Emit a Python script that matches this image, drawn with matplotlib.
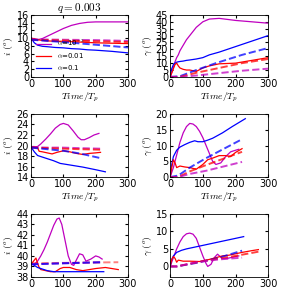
import matplotlib.pyplot as plt
import numpy as np


#estimated curves#

# top row: inclination i (left) and gamma (right)
t_i1 = [0, 10, 20, 35, 50, 75, 100, 125, 150, 175, 200, 250, 300]
i1_m = [10, 9.8, 9.6, 9.9, 10.5, 11.5, 12.5, 13.3, 13.8, 14.1, 14.2, 14.2, 14.2]
i1_r = [10, 9.8, 9.6, 9.4, 9.3, 9.2, 9.2, 9.1, 9.0, 8.9, 8.8, 8.7, 8.6]
i1_b = [10, 8.8, 8.2, 7.9, 7.8, 7.6, 7.5, 7.3, 7.2, 7.0, 6.9, 6.6, 6.2]
td_i1 = [0, 100, 200, 300]
i1_md = [9.7, 9.6, 9.5, 9.3]
i1_rd = [9.6, 9.4, 9.2, 9.0]
i1_bd = [9.6, 9.0, 8.3, 7.6]

t_g1 = [0, 5, 10, 15, 20, 25, 30, 40, 50, 60, 80, 100, 120, 150, 200, 250, 300]
g1_m = [0, 3, 7, 11, 14, 16, 19, 23, 27, 30, 36, 40, 42, 42.5, 41, 40, 39]
g1_b = [0, 6, 9, 10, 10.7, 11, 11.2, 11.5, 12, 12.3, 13, 14, 16, 18, 22, 26, 30]
g1_r = [0, 3, 6, 9, 10, 8, 6.5, 5.5, 5, 5, 4, 6.5, 8, 9.5, 10, 12, 14]
td_g1 = [0, 30, 80, 140, 220, 300]
g1_bd = [0, 0.5, 5, 10, 16, 21]
g1_rd = [0, 0, 3, 6, 10, 13]
g1_md = [0, 0, 1, 2.5, 4.5, 6]

# middle row
t_i2 = [0, 20, 30, 45, 60, 75, 90, 100, 115, 130, 145, 155, 165, 180, 195, 210]
i2_m = [19.7, 19.8, 20.3, 21.2, 22.2, 23.3, 24.0, 24.2, 23.9, 22.8, 21.6, 21.1, 21.1, 21.5, 22.0, 22.3]
t_i2r = [0, 20, 25, 35, 50, 65, 80, 100, 120, 140, 160, 180, 200, 215]
i2_r = [19.7, 19.6, 18.9, 18.8, 18.6, 18.4, 18.7, 19.0, 18.8, 18.5, 18.3, 18.5, 18.6, 18.7]
t_i2b = [0, 10, 20, 35, 50, 70, 90, 110, 130, 160, 200, 230]
i2_b = [19.7, 18.8, 18.1, 17.8, 17.5, 17.1, 16.6, 16.4, 16.2, 15.9, 15.4, 15.0]
td_i2 = [0, 50, 100, 150, 215]
i2_md = [19.7, 19.6, 19.6, 19.5, 19.4]
i2_rd = [19.6, 19.5, 19.4, 19.3, 19.2]
i2_bd = [19.6, 19.3, 19.0, 18.5, 17.6]

t_g2 = [0, 10, 20, 30, 40, 50, 60, 70, 80, 90, 100, 110, 120, 130, 140, 155, 170, 185, 200, 210]
g2_m = [0, 3, 7, 11, 14, 16, 17, 16.8, 16, 14.5, 12.5, 10, 7.5, 5, 4, 4.5, 6.5, 8, 8.5, 8.8]
t_g2b = [0, 5, 10, 20, 30, 45, 60, 75, 85, 100, 115, 130, 160, 190, 230]
g2_b = [0, 4, 6.5, 8.5, 9.5, 10.3, 11, 11.5, 11.2, 11.2, 11.7, 12.3, 14, 16, 18.5]
t_g2r = [0, 5, 10, 15, 20, 30, 45, 60, 80, 100, 115, 130, 150, 170, 185, 200, 220]
g2_r = [0, 3, 5.5, 4.5, 3, 3.5, 3.2, 3, 2.5, 4, 5.5, 6, 6.8, 6.8, 6.5, 7.8, 9]
td_g2 = [0, 25, 60, 110, 220]
g2_bd = [0, 0.5, 3, 6, 12]
g2_rd = [0, 0, 1.8, 3.8, 8]
g2_md = [0, 0, 1, 2, 4.8]

# bottom row
t_i3 = [0, 10, 20, 30, 40, 50, 60, 70, 80, 87, 95, 105, 115, 125, 132, 140, 150, 160, 170, 185, 200, 210, 220]
i3_m = [39.2, 39.2, 39.5, 40.0, 40.6, 41.3, 42.1, 42.9, 43.5, 43.6, 43.0, 41.5, 40.0, 39.2, 39.1, 39.6, 40.2, 40.1, 39.5, 39.7, 40.0, 39.9, 39.7]
t_i3r = [0, 10, 15, 20, 25, 30, 45, 60, 75, 90, 100, 120, 140, 160, 180, 200, 230, 250, 270]
i3_r = [39.2, 39.6, 39.8, 39.3, 38.9, 38.7, 38.6, 38.5, 38.5, 38.8, 38.9, 38.9, 38.7, 38.6, 38.7, 38.8, 38.9, 38.8, 38.7]
t_i3b = [0, 10, 20, 30, 50, 70, 100, 150, 225]
i3_b = [39.3, 39.1, 38.9, 38.8, 38.6, 38.5, 38.5, 38.5, 38.5]
td_i3 = [0, 100, 220]
i3_md = [39.2, 39.3, 39.4]
i3_bd = [39.2, 39.3, 39.4]
td_i3r = [0, 135, 270]
i3_rd = [39.3, 39.35, 39.4]

t_g3 = [0, 10, 20, 30, 40, 50, 60, 70, 80, 90, 100, 110, 115, 125, 135, 145, 160, 175, 190, 210]
g3_m = [0, 2.5, 5, 7, 8.5, 9.3, 9.5, 9.2, 8, 5.5, 3, 0.8, 0, 0.6, 2.5, 3.5, 2.2, 2.3, 2.6, 3]
t_g3b = [0, 5, 10, 20, 35, 50, 75, 100, 150, 200, 225]
g3_b = [0, 2, 3, 4, 4.6, 5, 5.5, 6, 7, 8, 8.5]
t_g3r = [0, 5, 10, 15, 20, 25, 40, 60, 90, 120, 140, 160, 180, 200, 220, 250, 270]
g3_r = [0, 2, 2.8, 2.3, 1.2, 1.8, 1.5, 1.5, 1.4, 2, 2.5, 3, 3.2, 3.6, 4, 4.5, 4.8]
td_g3 = [0, 20, 80, 150, 220]
g3_bd = [0, 0, 1, 2.5, 4.5]
td_g3r = [0, 20, 100, 200, 270]
g3_rd = [0, 0, 1.5, 3, 4.2]
g3_md = [0, 0, 1.2, 2, 2.5]


#general look#

plt.rcParams['font.size'] = 7
plt.rcParams['mathtext.fontset'] = 'cm'
plt.rcParams['xtick.direction'] = 'in'
plt.rcParams['ytick.direction'] = 'in'
plt.rcParams['xtick.top'] = True
plt.rcParams['ytick.right'] = True
plt.rcParams['xtick.major.size'] = 2.5
plt.rcParams['ytick.major.size'] = 2.5

fig = plt.figure(figsize=(2.99, 2.87), dpi=100)

lefts = [0.104, 0.569]
widths = [0.324, 0.328]
bottoms = [0.732, 0.383, 0.035]
heights = [0.216, 0.220, 0.220]

axes = []
for r in range(3):
    row = []
    for c in range(2):
        row.append(fig.add_axes([lefts[c], bottoms[r], widths[c], heights[r]]))
    axes.append(row)

lw = 0.9
dlw = 1.4
da = 0.75

# top row
ax = axes[0][0]
ax.plot(t_i1, i1_m, color='m', lw=lw, label=r'$\alpha$=10$^{-3}$')
ax.plot(t_i1, i1_r, color='r', lw=lw, label=r'$\alpha$=0.01')
ax.plot(t_i1, i1_b, color='b', lw=lw, label=r'$\alpha$=0.1')
ax.plot(td_i1, i1_md, '--', color='m', lw=dlw, alpha=da)
ax.plot(td_i1, i1_rd, '--', color='r', lw=dlw, alpha=da)
ax.plot(td_i1, i1_bd, '--', color='b', lw=dlw, alpha=da)
ax.set_ylim(0, 16)
ax.set_yticks(range(0, 17, 2))
ax.set_title('$q=0.003$', fontsize=8, pad=2)
ax.legend(loc='lower left', frameon=False, fontsize=5, handlelength=2.2,
          borderaxespad=0.3, labelspacing=0.4)
ax.set_xlabel('$Time/T_p$')
ax.set_ylabel(r'$i\ (^o)$')

ax = axes[0][1]
ax.plot(t_g1, g1_m, color='m', lw=lw)
ax.plot(t_g1, g1_b, color='b', lw=lw)
ax.plot(t_g1, g1_r, color='r', lw=lw)
ax.plot(td_g1, g1_bd, '--', color='b', lw=dlw, alpha=da)
ax.plot(td_g1, g1_rd, '--', color='r', lw=dlw, alpha=da)
ax.plot(td_g1, g1_md, '--', color='m', lw=dlw, alpha=da)
ax.set_ylim(0, 45)
ax.set_yticks(range(0, 46, 5))
ax.set_xlabel('$Time/T_p$')
ax.set_ylabel(r'$\gamma\ (^o)$')

# middle row
ax = axes[1][0]
ax.plot(t_i2, i2_m, color='m', lw=lw)
ax.plot(t_i2r, i2_r, color='r', lw=lw)
ax.plot(t_i2b, i2_b, color='b', lw=lw)
ax.plot(td_i2, i2_md, '--', color='m', lw=dlw, alpha=da)
ax.plot(td_i2, i2_rd, '--', color='r', lw=dlw, alpha=da)
ax.plot(td_i2, i2_bd, '--', color='b', lw=dlw, alpha=da)
ax.set_ylim(14, 26)
ax.set_yticks(range(14, 27, 2))
ax.set_xlabel('$Time/T_p$')
ax.set_ylabel(r'$i\ (^o)$')

ax = axes[1][1]
ax.plot(t_g2, g2_m, color='m', lw=lw)
ax.plot(t_g2b, g2_b, color='b', lw=lw)
ax.plot(t_g2r, g2_r, color='r', lw=lw)
ax.plot(td_g2, g2_bd, '--', color='b', lw=dlw, alpha=da)
ax.plot(td_g2, g2_rd, '--', color='r', lw=dlw, alpha=da)
ax.plot(td_g2, g2_md, '--', color='m', lw=dlw, alpha=da)
ax.set_ylim(0, 20)
ax.set_yticks(range(0, 21, 5))
ax.set_xlabel('$Time/T_p$')
ax.set_ylabel(r'$\gamma\ (^o)$')

# bottom row
ax = axes[2][0]
ax.plot(t_i3, i3_m, color='m', lw=lw)
ax.plot(t_i3r, i3_r, color='r', lw=lw)
ax.plot(t_i3b, i3_b, color='b', lw=lw)
ax.plot(td_i3r, i3_rd, '--', color='r', lw=dlw, alpha=0.5)
ax.plot(td_i3, i3_md, '--', color='m', lw=dlw, alpha=da)
ax.plot(td_i3, i3_bd, '--', color='b', lw=dlw, alpha=da)
ax.set_ylim(38, 44)
ax.set_yticks(range(38, 45))
ax.set_ylabel(r'$i\ (^o)$')

ax = axes[2][1]
ax.plot(t_g3, g3_m, color='m', lw=lw)
ax.plot(t_g3b, g3_b, color='b', lw=lw)
ax.plot(t_g3r, g3_r, color='r', lw=lw)
ax.plot(td_g3, g3_bd, '--', color='b', lw=dlw, alpha=da)
ax.plot(td_g3r, g3_rd, '--', color='r', lw=dlw, alpha=da)
ax.plot(td_g3, g3_md, '--', color='m', lw=dlw, alpha=da)
ax.set_ylim(-3, 15)
ax.set_yticks(range(0, 16, 5))
ax.set_ylabel(r'$\gamma\ (^o)$')

for row in axes:
    for ax in row:
        ax.set_xlim(0, 300)
        ax.set_xticks([0, 100, 200, 300])
        ax.tick_params(labelsize=7, pad=1.5)
        ax.xaxis.labelpad = 1
        ax.yaxis.labelpad = 1
        for s in ax.spines.values():
            s.set_linewidth(0.6)

fig.savefig('out.png', dpi=100)
